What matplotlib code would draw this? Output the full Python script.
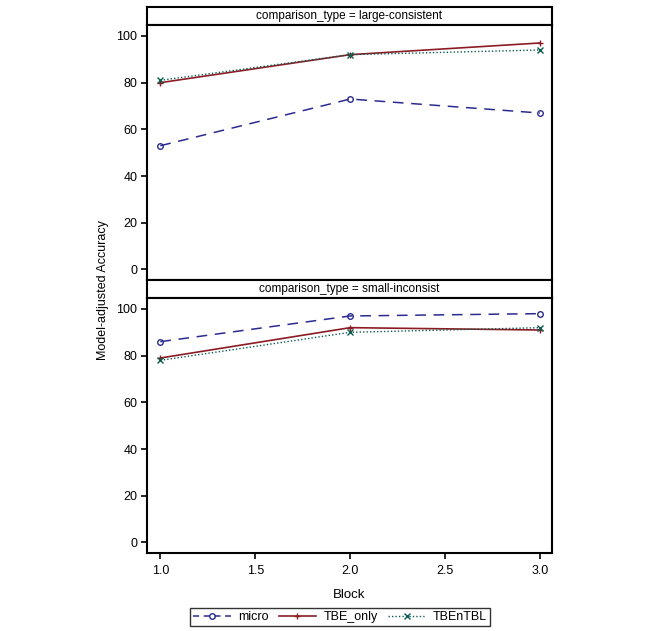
import matplotlib
matplotlib.use('Agg')
import matplotlib.pyplot as plt
from matplotlib.lines import Line2D

plt.rcParams['font.family'] = ['Liberation Sans', 'DejaVu Sans']

block = [1.0, 2.0, 3.0]
panels = ['large-consistent', 'small-inconsist']
micro = [[53, 73, 67], [86, 97, 98]]
tbe_only = [[80, 92, 97], [79, 92, 91]]
tbentbl = [[81, 92, 94], [78, 90, 92]]

c_micro = '#2b2b8f'
c_tbe = '#8b1c24'
c_tbl = '#0d5e50'

W, H = 650, 631
fig = plt.figure(figsize=(W / 100, H / 100), dpi=100)

def box(x0, y0, x1, y1):
    # pixel coords from top-left -> figure fraction
    return [x0 / W, 1 - y1 / H, (x1 - x0) / W, (y1 - y0) / H]

left, right = 147, 552
rows = [(7, 25, 280), (280, 298, 553)]

for i, (h0, h1, p1) in enumerate(rows):
    hax = fig.add_axes(box(left, h0, right, h1))
    hax.set_xticks([])
    hax.set_yticks([])
    for s in hax.spines.values():
        s.set_linewidth(1.5)
    hax.text(0.5, 0.5, 'comparison_type = ' + panels[i], ha='center', va='center',
             fontsize=8.5, transform=hax.transAxes)

    ax = fig.add_axes(box(left, h1, right, p1))
    ax.plot(block, micro[i], color=c_micro, ls=(0, (7, 5)), lw=1.1, marker='o',
            mfc='none', ms=4, mew=1)
    ax.plot(block, tbe_only[i], color=c_tbe, ls='-', lw=1.2, marker='+', ms=5, mew=1)
    ax.plot(block, tbentbl[i], color=c_tbl, ls=(0, (1, 1.5)), lw=1, marker='x', ms=4, mew=1)
    ax.set_xlim(0.93, 3.063)
    ax.set_ylim(-4.5, 104.7)
    ax.set_yticks([0, 20, 40, 60, 80, 100])
    ax.tick_params(labelsize=9, length=4, width=1.2, pad=3)
    for s in ax.spines.values():
        s.set_linewidth(1.5)
    if i == 0:
        ax.set_xticks([])
    else:
        ax.set_xticks([1.0, 1.5, 2.0, 2.5, 3.0])
        ax.set_xticklabels(['1.0', '1.5', '2.0', '2.5', '3.0'])
        ax.tick_params(axis='x', pad=5)
        ax.set_xlabel('Block', fontsize=9.5, labelpad=8)

fig.text(103 / W, 1 - 290 / H, 'Model-adjusted Accuracy', rotation=90,
         ha='center', va='center', fontsize=9)

handles = [
    Line2D([], [], color=c_micro, ls=(0, (4, 3)), lw=1.1, marker='o', mfc='none', ms=4),
    Line2D([], [], color=c_tbe, ls='-', lw=1.2, marker='+', ms=5),
    Line2D([], [], color=c_tbl, ls=(0, (1, 1.5)), lw=1, marker='x', ms=4),
]
leg = fig.legend(handles, ['micro', 'TBE_only', 'TBEnTBL'], loc='center',
                 bbox_to_anchor=(340 / W, 1 - 617 / H), ncol=3, fontsize=9,
                 frameon=True, fancybox=False, edgecolor='black', handlelength=3,
                 borderpad=0.25, columnspacing=0.8, handletextpad=0.6)
leg.get_frame().set_linewidth(1)

fig.savefig('out.png', dpi=100)
